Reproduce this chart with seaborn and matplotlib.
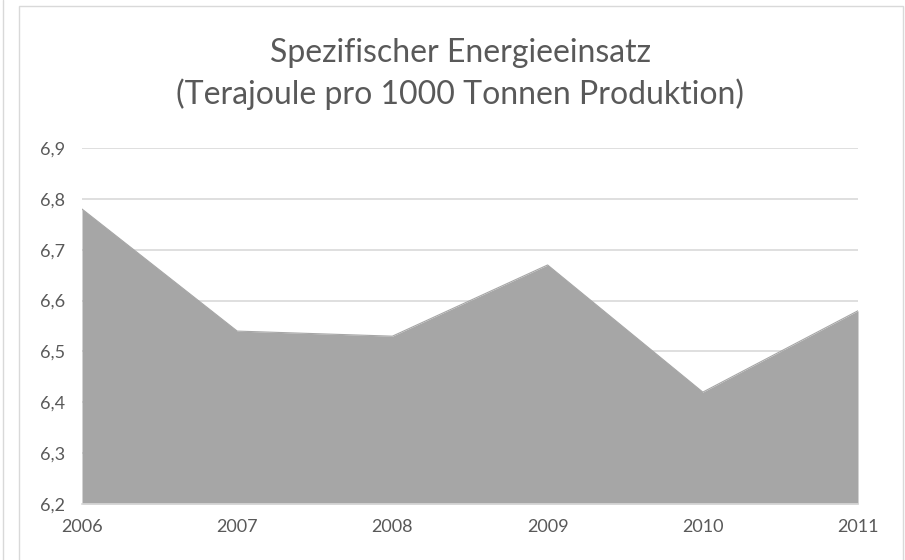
import matplotlib
matplotlib.use("Agg")
import matplotlib.pyplot as plt
import seaborn as sns
import pandas as pd
from matplotlib.lines import Line2D
from matplotlib.patches import Rectangle

years = [2006, 2007, 2008, 2009, 2010, 2011]
values = [6.78, 6.54, 6.53, 6.67, 6.42, 6.58]
y_ticks = [6.2, 6.3, 6.4, 6.5, 6.6, 6.7, 6.8, 6.9]
y_labels = ["6,2", "6,3", "6,4", "6,5", "6,6", "6,7", "6,8", "6,9"]
title = "Spezifischer Energieeinsatz\n(Terajoule pro 1000 Tonnen Produktion)"

sns.set_theme(style="white")
plt.rcParams["font.family"] = ["Lato", "DejaVu Sans"]

df = pd.DataFrame({"Jahr": years, "Wert": values})

fig = plt.figure(figsize=(9.05, 5.6), dpi=100)
ax = fig.add_axes([82 / 905, 1 - 504 / 560, (858 - 82) / 905, (504 - 148) / 560])

fill_c = "#a6a6a6"
ax.fill_between(df["Jahr"], 6.2, df["Wert"], color=fill_c, linewidth=0, zorder=2)
sns.lineplot(data=df, x="Jahr", y="Wert", ax=ax, color=fill_c, linewidth=0.8, zorder=3)

ax.set_xlim(years[0], years[-1])
ax.set_ylim(y_ticks[0], y_ticks[-1])
ax.set_yticks(y_ticks)
ax.set_yticklabels(y_labels)
ax.set_xticks(years)
ax.set_xticklabels([str(y) for y in years])
ax.grid(axis="y", color="#d9d9d9", linewidth=1.2, zorder=0)
ax.set_axisbelow(True)
for s in ["top", "right", "left"]:
    ax.spines[s].set_visible(False)
ax.spines["bottom"].set_color("#d9d9d9")
ax.spines["bottom"].set_linewidth(1.2)
ax.spines["bottom"].set_zorder(4)
ax.tick_params(axis="x", length=6, width=1, color="#d9d9d9", pad=5, labelsize=13, labelcolor="#595959", direction="out")
ax.tick_params(axis="y", length=0, pad=12, labelsize=13, labelcolor="#595959")
ax.set_xlabel("")
ax.set_ylabel("")

fig.text(460 / 905, 1 - 74 / 560, title, ha="center", va="center", fontsize=23,
         color="#595959", linespacing=1.4)

# chart frame
fig.patches.append(Rectangle((19 / 905, -0.01), (903 - 19) / 905, 1 - 6 / 560 + 0.01,
                             transform=fig.transFigure, fill=False, edgecolor="#d9d9d9", linewidth=1))
fig.lines.append(Line2D([3 / 905, 3 / 905], [0, 1], transform=fig.transFigure, color="#d9d9d9", linewidth=1))

fig.savefig("out.png", dpi=100)
